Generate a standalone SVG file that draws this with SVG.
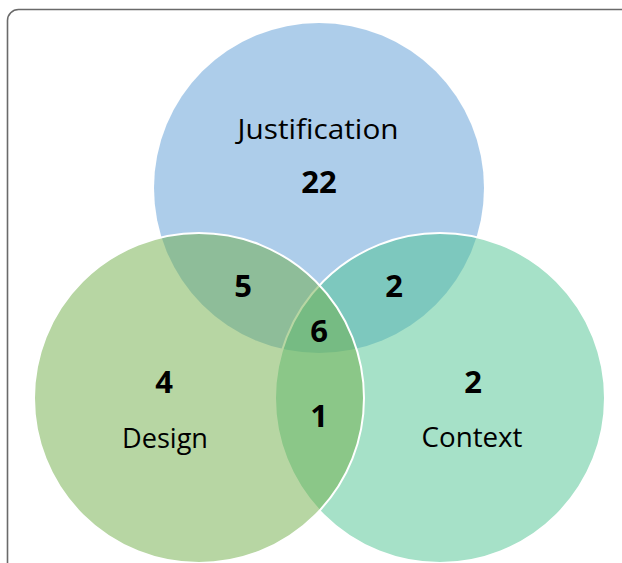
<svg xmlns="http://www.w3.org/2000/svg" width="622" height="563" viewBox="0 0 622 563">
<style>
.lbl{font-family:"Open Sans","Noto Sans","Liberation Sans",sans-serif;font-size:28px;fill:#000;text-anchor:middle}
.num{font-family:"Open Sans","Noto Sans","Liberation Sans",sans-serif;font-size:31px;font-weight:bold;fill:#000;text-anchor:middle}
</style>
<rect x="0" y="0" width="622" height="563" fill="#fff"/>
<rect x="7.5" y="9.5" width="680" height="620" rx="11" fill="none" stroke="#6a6a6a" stroke-width="1.6"/>
<g id="justification">
<circle cx="319" cy="188" r="165" fill="#5B9BD5" fill-opacity="0.5"/>
</g>
<g id="context">
<circle cx="440" cy="398" r="165" fill="#4DC391" fill-opacity="0.5" stroke="#fff" stroke-width="2"/>
</g>
<g id="design">
<circle cx="199" cy="398" r="165" fill="#70AD47" fill-opacity="0.5" stroke="#fff" stroke-width="2"/>
</g>
<g id="labels">
<text class="lbl" x="318" y="139" textLength="161" lengthAdjust="spacingAndGlyphs">Justification</text>
<text class="num" x="319" y="193">22</text>
<text class="num" x="164" y="393">4</text>
<text class="lbl" x="165" y="448" textLength="86" lengthAdjust="spacingAndGlyphs">Design</text>
<text class="num" x="473" y="393">2</text>
<text class="lbl" x="472" y="447" textLength="101" lengthAdjust="spacingAndGlyphs">Context</text>
<text class="num" x="243" y="297">5</text>
<text class="num" x="394" y="297">2</text>
<text class="num" x="319" y="342">6</text>
<text class="num" x="319" y="427">1</text>
</g>
</svg>
